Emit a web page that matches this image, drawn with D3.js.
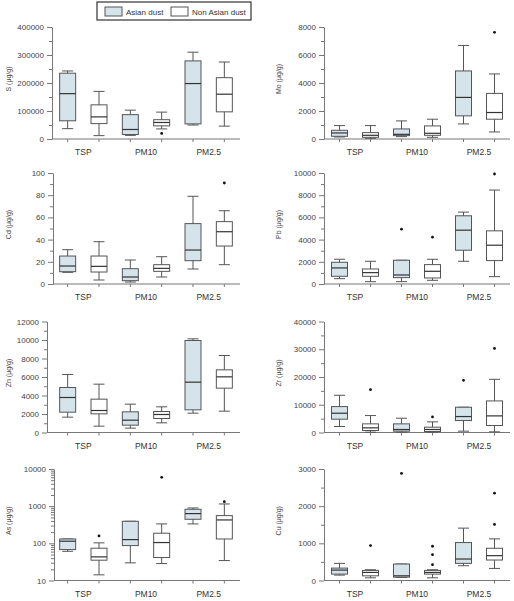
<!DOCTYPE html>
<html>
<head>
<meta charset="utf-8">
<script src="https://cdn.jsdelivr.net/npm/d3@7"></script>
<style>
  body { margin: 0; background: #fff; }
  svg text { font-family: "Liberation Sans", Arial, sans-serif; }
</style>
</head>
<body>
<div id="chart"></div>
<script>
// categories and groups
var categories = ["TSP", "PM10", "PM2.5"];
var groups = ["Asian dust", "Non Asian dust"];

// box stats [min, q1, median, q3, max]
// order: TSP-Asian, TSP-Non, PM10-Asian, PM10-Non, PM2.5-Asian, PM2.5-Non
var sBoxes = [[37000, 65000, 162000, 235000, 243000], [12000, 55000, 79000, 122000, 170000],
  [13000, 16000, 34000, 87000, 103000], [36000, 47000, 59000, 69000, 96000],
  [50000, 54000, 198000, 279000, 310000], [46000, 97000, 160000, 219000, 275000]];
var sOutliers = [[], [], [], [20000], [], []];
var sTicks = [0, 100000, 200000, 300000, 400000];

var moBoxes = [[144, 192, 431, 623, 958], [50, 120, 263, 455, 958],
  [168, 240, 335, 719, 1293], [120, 263, 407, 934, 1413],
  [1078, 1653, 2970, 4862, 6683], [503, 1413, 1892, 3257, 4647]];
var moOutliers = [[], [], [], [], [], [7617]];
var moTicks = [0, 2000, 4000, 6000, 8000];

var cdBoxes = [[10.5, 11.1, 16.2, 25.2, 30.9], [3.6, 10.8, 15.9, 25.2, 38.1],
  [1.8, 3.0, 6.3, 13.8, 21.6], [6.3, 11.4, 14.1, 17.4, 24.6],
  [13.5, 21.0, 30.6, 54.4, 79], [17.4, 34.2, 47.1, 56.2, 66]];
var cdOutliers = [[], [], [], [], [], [91]];
var cdTicks = [0, 20, 40, 60, 80, 100];

var pbBoxes = [[482, 693, 1446, 1958, 2229], [211, 693, 1024, 1355, 2048],
  [211, 572, 813, 2139, 2139], [331, 542, 1145, 1747, 2229],
  [2048, 3042, 4849, 6145, 6476], [663, 2108, 3494, 4789, 8464]];
var pbOutliers = [[], [], [4940], [4217], [], [9910]];
var pbTicks = [0, 2000, 4000, 6000, 8000, 10000];

var znBoxes = [[1658, 2198, 3784, 4865, 6270], [685, 2018, 2378, 3604, 5225],
  [468, 793, 1333, 2234, 3063], [1045, 1514, 1946, 2270, 2775],
  [2090, 2450, 5441, 9946, 10126], [2306, 4793, 6018, 6775, 8324]];
var znOutliers = [[], [], [], [], [], []];
var znTicks = [0, 2000, 4000, 6000, 8000, 10000, 12000];

var zrBoxes = [[2156, 4790, 6946, 9341, 13413], [120, 719, 1677, 3114, 6108],
  [120, 479, 1078, 3114, 5150], [120, 359, 1078, 1916, 3832],
  [479, 4311, 5749, 9102, 9102], [240, 2515, 5988, 11377, 19162]];
var zrOutliers = [[], [15449], [], [5629], [18802], [30299]];
var zrTicks = [0, 10000, 20000, 30000, 40000];

var asBoxes = [[61, 68, 114, 131, 131], [14.2, 35.2, 43.2, 73.9, 103],
  [29.8, 87, 126, 392, 392], [28.6, 41.5, 105, 187, 333],
  [333, 444, 631, 824, 895], [34.4, 131, 426, 557, 1146]];
var asOutliers = [[], [158], [], [5960], [], [1324]];
var asTicks = [10, 100, 1000, 10000];

var cuBoxes = [[145, 172, 280, 334, 461], [72, 126, 217, 271, 289],
  [81, 90, 126, 443, 443], [72, 172, 217, 271, 289],
  [397, 461, 578, 1021, 1409], [325, 551, 668, 867, 1120]];
var cuOutliers = [[], [939], [2882], [921, 696, 425], [], [2349, 1509]];
var cuTicks = [0, 1000, 2000, 3000];

var panels = [
  { label: "S (\u03bcg/g)", boxes: sBoxes, outliers: sOutliers, ticks: sTicks, minor: 50000 },
  { label: "Mo (\u03bcg/g)", boxes: moBoxes, outliers: moOutliers, ticks: moTicks, minor: 1000 },
  { label: "Cd (\u03bcg/g)", boxes: cdBoxes, outliers: cdOutliers, ticks: cdTicks, minor: 10 },
  { label: "Pb (\u03bcg/g)", boxes: pbBoxes, outliers: pbOutliers, ticks: pbTicks, minor: 1000 },
  { label: "Zn (\u03bcg/g)", boxes: znBoxes, outliers: znOutliers, ticks: znTicks, minor: 1000 },
  { label: "Zr (\u03bcg/g)", boxes: zrBoxes, outliers: zrOutliers, ticks: zrTicks, minor: 5000 },
  { label: "As (\u03bcg/g)", boxes: asBoxes, outliers: asOutliers, ticks: asTicks, log: true },
  { label: "Cu (\u03bcg/g)", boxes: cuBoxes, outliers: cuOutliers, ticks: cuTicks, minor: 500 }
];

// layout of each panel (pixel positions)
var columns = [
  { start: 52, end: 240, titleX: 11 },
  { start: 324, end: 510, titleX: 281 }
];
var rows = [[27, 139], [173, 284], [321.5, 432.5], [469, 580.5]];
var axisXs = [52, 324, 53, 324, 47, 324, 54, 324];

var fillColor = { "Asian dust": "#d5e3ea", "Non Asian dust": "#ffffff" };
var boxWidth = 16, capWidth = 11;

var svg = d3.select("#chart")
  .append("svg")
  .attr("width", 514)
  .attr("height", 601);

var keys = d3.cross(categories, groups).map(function (d) { return d[0] + "|" + d[1]; });

panels.forEach(function (p, i) {
  var col = columns[i % 2];
  var row = rows[Math.floor(i / 2)];
  var axisX = axisXs[i];
  var g = svg.append("g");

  var y;
  if (p.log) {
    y = d3.scaleLog().domain([10, 10000]).range([row[1], row[0]]);
  } else {
    y = d3.scaleLinear().domain([0, d3.max(p.ticks)]).range([row[1], row[0]]);
  }
  var x = d3.scaleBand().domain(keys).range([col.start, col.end]);

  // minor ticks
  var minorVals;
  if (p.log) {
    minorVals = y.ticks().filter(function (v) { return p.ticks.indexOf(v) < 0; });
  } else {
    minorVals = d3.range(0, d3.max(p.ticks) + 1e-9, p.minor).filter(function (v) { return p.ticks.indexOf(v) < 0; });
  }
  var minorAxis = g.append("g")
    .attr("transform", "translate(" + axisX + ",0)")
    .call(d3.axisLeft(y).tickValues(minorVals).tickSize(3).tickSizeOuter(0).tickFormat(""));
  minorAxis.select(".domain").remove();

  var yAxis = g.append("g")
    .attr("transform", "translate(" + axisX + ",0)")
    .call(d3.axisLeft(y).tickValues(p.ticks).tickSize(5).tickSizeOuter(0).tickPadding(3).tickFormat(d3.format("d")));
  yAxis.selectAll("text").style("font-size", "8px").attr("fill", "#444");

  g.selectAll(".tick line").attr("stroke", "#777");
  g.selectAll(".domain").attr("stroke", "#777");

  // x axis
  var xAxis = g.append("g")
    .attr("transform", "translate(0," + row[1] + ")")
    .call(d3.axisBottom(x).tickSize(3).tickSizeOuter(0).tickFormat(""));
  xAxis.select(".domain").remove();
  xAxis.selectAll(".tick line").attr("stroke", "#777");
  g.append("line")
    .attr("x1", axisX).attr("x2", col.end)
    .attr("y1", row[1]).attr("y2", row[1])
    .attr("stroke", "#777");

  // category labels
  g.selectAll(".cat")
    .data(categories)
    .enter()
    .append("text")
    .attr("x", function (c) {
      return (x(c + "|" + groups[0]) + x(c + "|" + groups[1])) / 2 + x.bandwidth() / 2;
    })
    .attr("y", row[1] + 16)
    .attr("text-anchor", "middle")
    .attr("fill", "#333")
    .style("font-size", "8.5px")
    .text(function (c) { return c; });

  // y title
  var midY = (row[0] + row[1]) / 2 - 4;
  g.append("text")
    .attr("transform", "translate(" + col.titleX + "," + midY + ") rotate(-90)")
    .attr("text-anchor", "middle")
    .attr("fill", "#444")
    .style("font-size", "7px")
    .text(p.label);

  // boxes
  p.boxes.forEach(function (b, j) {
    var key = keys[j];
    var grp = key.split("|")[1];
    var cx = x(key) + x.bandwidth() / 2;
    var bg = g.append("g");
    bg.append("line")
      .attr("x1", cx).attr("x2", cx)
      .attr("y1", y(b[0])).attr("y2", y(b[4]))
      .attr("stroke", "#555");
    bg.append("line")
      .attr("x1", cx - capWidth / 2).attr("x2", cx + capWidth / 2)
      .attr("y1", y(b[4])).attr("y2", y(b[4]))
      .attr("stroke", "#555");
    bg.append("line")
      .attr("x1", cx - capWidth / 2).attr("x2", cx + capWidth / 2)
      .attr("y1", y(b[0])).attr("y2", y(b[0]))
      .attr("stroke", "#555");
    bg.append("rect")
      .attr("x", cx - boxWidth / 2)
      .attr("y", y(b[3]))
      .attr("width", boxWidth)
      .attr("height", y(b[1]) - y(b[3]))
      .attr("fill", fillColor[grp])
      .attr("stroke", "#555");
    bg.append("line")
      .attr("x1", cx - boxWidth / 2).attr("x2", cx + boxWidth / 2)
      .attr("y1", y(b[2])).attr("y2", y(b[2]))
      .attr("stroke", "#333")
      .attr("stroke-width", 1.2);

    bg.selectAll("circle")
      .data(p.outliers[j])
      .enter()
      .append("circle")
      .attr("cx", cx)
      .attr("cy", function (v) { return y(v); })
      .attr("r", 1.4)
      .attr("fill", "#111");
  });
});

// legend
var legend = svg.append("g");
legend.append("rect")
  .attr("x", 97).attr("y", 2)
  .attr("width", 154).attr("height", 18)
  .attr("fill", "#fff")
  .attr("stroke", "#333")
  .attr("stroke-width", 1.2);
var legendX = [105, 171];
groups.forEach(function (grp, i) {
  legend.append("rect")
    .attr("x", legendX[i]).attr("y", 7)
    .attr("width", 17).attr("height", 9)
    .attr("fill", fillColor[grp])
    .attr("stroke", "#555");
  legend.append("text")
    .attr("x", legendX[i] + 21)
    .attr("y", 14.5)
    .attr("fill", "#333")
    .style("font-size", "8px")
    .text(grp);
});
</script>
</body>
</html>
